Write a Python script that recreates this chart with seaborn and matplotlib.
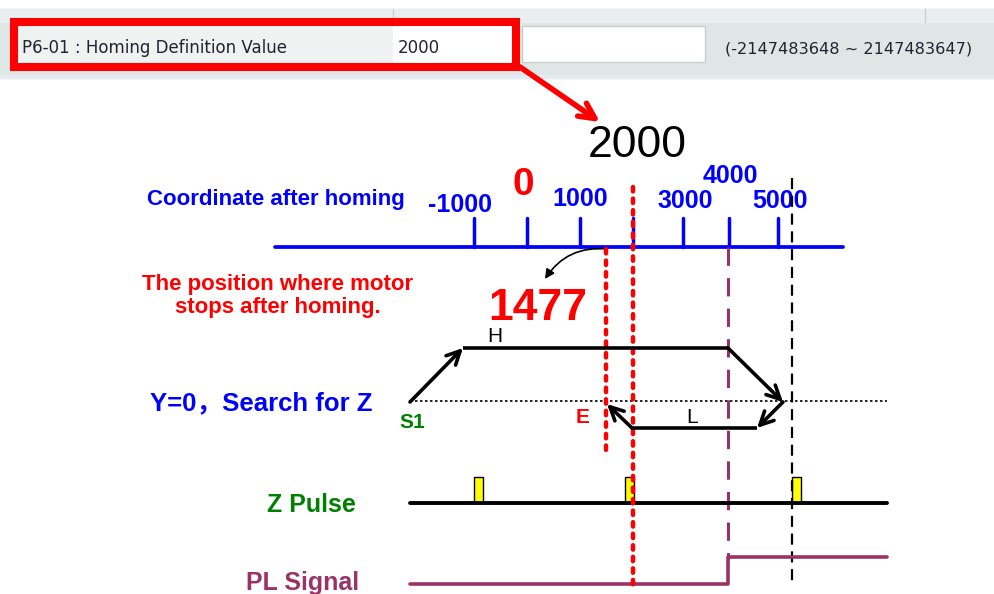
import matplotlib
matplotlib.use("Agg")
import matplotlib.pyplot as plt
import matplotlib.patches as mpatches
import seaborn as sns
import pandas as pd

sns.set_theme(style="white")
plt.rcParams["font.family"] = ["Liberation Sans", "Noto Sans CJK SC", "DejaVu Sans"]

# ---------------- data (diagram positions) ----------------
param_name = "P6-01 : Homing Definition Value"
param_value = "2000"
param_range = "(-2147483648 ~ 2147483647)"

coord_labels = ["-1000", "0", "1000", "2000", "3000", "4000", "5000"]
coord_tick_x = [474, 527, 580, 633, 683, 729, 778]
homing_value_x = 633          # 2000 (Z pulse / homing origin)
stop_value = "1477"
stop_x = 606                  # motor stop position
pl_edge_x = 728               # PL signal rising edge
z_found_x = 792               # Z pulse found on reverse search

# motion profile (H = high speed, L = low speed)
profile_x = [410, 463, 728, 783, 757, 632, 607]
profile_y = [402, 348, 348, 402, 428, 428, 404]
profile_arrow = [True, False, True, True, False, True]

z_pulse_left = [474, 625, 792]
z_pulse_width = 9
z_line_y = 503
z_pulse_top = 477

pl_x = [410, 728, 728, 887]
pl_y = [584, 584, 557, 557]

search_line_y = 401
line_start, line_end = 410, 887

BLUE = "#0000FF"
RED = "#FF0000"
GREEN = "#008000"
PURPLE = "#993366"

# ---------------- figure ----------------
fig = plt.figure(figsize=(9.95, 5.94), dpi=100)
ax = fig.add_axes([0, 0, 1, 1])
ax.set_xlim(0, 995)
ax.set_ylim(594, 0)
ax.axis("off")

# header (parameter screenshot)
ax.add_patch(mpatches.Rectangle((0, 9), 995, 69, color="#dfe6e6", zorder=0))
ax.add_patch(mpatches.Rectangle((0, 9), 995, 13, color="#e9efee", zorder=0))
ax.plot([393, 393], [9, 22], color="#c9d0d0", lw=1)
ax.plot([925, 925], [9, 22], color="#c9d0d0", lw=1)
ax.add_patch(mpatches.Rectangle((0, 75), 995, 3, color="#e4ecf2", zorder=0))
ax.add_patch(mpatches.Rectangle((522, 26), 183, 36, facecolor="white",
                                edgecolor="#c8cece", lw=1, zorder=1))
ax.add_patch(mpatches.Rectangle((18, 26), 375, 37, color="#eef2f1", zorder=1))
ax.add_patch(mpatches.Rectangle((393, 26), 120, 37, color="white", zorder=1))
ax.add_patch(mpatches.Rectangle((14, 22), 502, 45, facecolor="none",
                                edgecolor=RED, lw=5.8, zorder=2))
hdr_font = dict(family=["DejaVu Sans"], fontsize=12,
                color="#222233", va="baseline")
ax.text(22, 53, param_name, **hdr_font, zorder=3)
ax.text(398, 53, param_value, **hdr_font, zorder=3)
ax.text(725, 53, param_range, family=["DejaVu Sans"], fontsize=11.6,
        color="#222233", va="baseline", zorder=3)

# red arrow from header to 2000
ax.annotate("", xy=(600, 122), xytext=(520, 67),
            arrowprops=dict(arrowstyle="->", color=RED, lw=4,
                            mutation_scale=28, shrinkA=0, shrinkB=0))

ax.text(637, 157, "2000", fontsize=32, color="black", ha="center", va="baseline")

# coordinate axis
ax.plot([275, 843], [247, 247], color=BLUE, lw=2.7, solid_capstyle="round")
for x in coord_tick_x:
    ax.plot([x, x], [218, 247], color=BLUE, lw=2.5)
ax.text(147, 205, "Coordinate after homing", color=BLUE, fontsize=16,
        fontweight="bold", va="baseline")
lab_y = {"-1000": 212, "0": 195, "1000": 206, "3000": 208, "4000": 183, "5000": 208}
lab_x = {"-1000": 460, "0": 523, "1000": 580, "3000": 685, "4000": 730, "5000": 780}
for lab in coord_labels:
    if lab == "2000":
        continue
    if lab == "0":
        ax.text(lab_x[lab], lab_y[lab], lab, color=RED, fontsize=28,
                fontweight="bold", ha="center", va="baseline")
    else:
        ax.text(lab_x[lab], lab_y[lab], lab, color=BLUE, fontsize=18,
                fontweight="bold", ha="center", va="baseline")

# stop position text
ax.text(278, 290, "The position where motor", color=RED, fontsize=16,
        fontweight="bold", ha="center", va="baseline")
ax.text(278, 313, "stops after homing.", color=RED, fontsize=16,
        fontweight="bold", ha="center", va="baseline")
ax.text(538, 320, stop_value, color=RED, fontsize=32, fontweight="bold",
        ha="center", va="baseline")
ax.annotate("", xy=(545, 279), xytext=(607, 249),
            arrowprops=dict(arrowstyle="-|>", color="black", lw=1.2,
                            mutation_scale=14, shrinkA=0, shrinkB=0,
                            connectionstyle="arc3,rad=0.3"))

# vertical reference lines
ax.plot([homing_value_x, homing_value_x], [187, 590], color=RED, lw=3.2,
        linestyle=(0, (1.0, 1.6)), dash_capstyle="round", zorder=4)
ax.plot([stop_x, stop_x], [249, 450], color=RED, lw=3.2,
        linestyle=(0, (1.0, 1.6)), dash_capstyle="round", zorder=4)
ax.plot([pl_edge_x, pl_edge_x], [247, 560], color=PURPLE, lw=2.2,
        linestyle=(0, (6, 4)), zorder=3)
ax.plot([z_found_x, z_found_x], [178, 582], color="black", lw=1.6,
        linestyle=(0, (5, 3)), zorder=3)

# search for Z
ax.plot([line_start, line_end], [search_line_y, search_line_y], color="black",
        lw=1.2, linestyle=(0, (1.5, 1.5)), zorder=2)
for i in range(len(profile_x) - 1):
    p0 = (profile_x[i], profile_y[i])
    p1 = (profile_x[i + 1], profile_y[i + 1])
    if profile_arrow[i]:
        ax.annotate("", xy=p1, xytext=p0,
                    arrowprops=dict(arrowstyle="->", color="black", lw=2.6,
                                    mutation_scale=24, shrinkA=0, shrinkB=0),
                    zorder=5)
    else:
        ax.plot([p0[0], p1[0]], [p0[1], p1[1]], color="black", lw=2.6,
                solid_capstyle="butt", zorder=5)
ax.text(495, 342, "H", fontsize=15, color="black", ha="center", va="baseline")
ax.text(692, 423, "L", fontsize=15, color="black", ha="center", va="baseline")
ax.text(412, 428, "S1", fontsize=15, color=GREEN, fontweight="bold",
        ha="center", va="baseline")
ax.text(583, 423, "E", fontsize=15, color=RED, fontweight="bold",
        ha="center", va="baseline")
ax.text(372, 410, "Y=0，Search for Z", fontsize=18.5, color=BLUE,
        fontweight="bold", ha="right", va="baseline")

# Z pulse
zdf = pd.DataFrame({"x": [line_start, line_end], "y": [z_line_y, z_line_y]})
sns.lineplot(data=zdf, x="x", y="y", ax=ax, color="black", lw=2.8, zorder=3)
for xl in z_pulse_left:
    ax.add_patch(mpatches.Rectangle((xl, z_pulse_top), z_pulse_width,
                                    z_line_y - z_pulse_top, facecolor="#FFFF00",
                                    edgecolor="black", lw=1.0, zorder=2))
ax.text(311, 512, "Z Pulse", fontsize=18, color=GREEN, fontweight="bold",
        ha="center", va="baseline")

# PL signal
pldf = pd.DataFrame({"x": pl_x, "y": pl_y, "step": range(len(pl_x))})
sns.lineplot(data=pldf, x="x", y="y", ax=ax, color=PURPLE, lw=2.6, sort=False,
             estimator=None, zorder=3)
ax.text(303, 590, "PL Signal", fontsize=18, color=PURPLE, fontweight="bold",
        ha="center", va="baseline")

ax.set_xlim(0, 995)
ax.set_ylim(594, 0)
ax.axis("off")
fig.savefig("out.png", dpi=100)
